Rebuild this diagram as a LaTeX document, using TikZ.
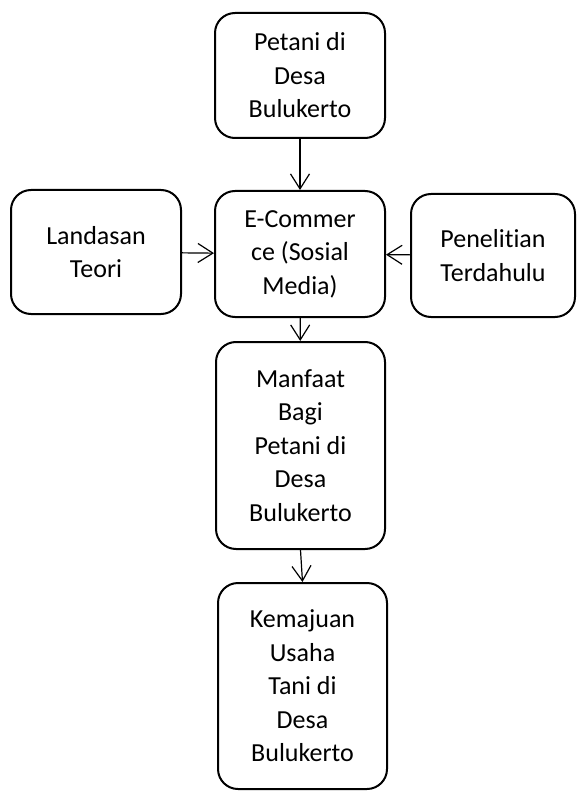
\documentclass[tikz,border=0pt]{standalone}
\usepackage{fontspec}
\setmainfont{Carlito}[Ligatures=NoCommon]
\usetikzlibrary{arrows.meta}
\begin{document}
\begin{tikzpicture}[x=1pt, y=-1pt,
  kotak/.style={draw, line width=2pt, rounded corners=20pt, inner sep=0pt, align=center, font=\fontsize{26}{33.5}\selectfont},
  panah/.style={line width=1.2pt, -{Straight Barb[length=15pt, width=19pt, line width=1.2pt]}}]
\useasboundingbox (0,0) rectangle (576,791);
\node[kotak, minimum width=170pt, minimum height=125pt] (petani) at (300,75.5){Petani di\\Desa\\Bulukerto};
\node[kotak, minimum width=170pt, minimum height=124pt] (landasan) at (96,252){Landasan\\Teori};
\node[kotak, minimum width=170pt, minimum height=126pt] (ecom) at (300,254){E-Commer\\ce (Sosial\\Media)};
\node[kotak, minimum width=164pt, minimum height=123pt] (penelitian) at (493,255.5){Penelitian\\Terdahulu};
\node[kotak, minimum width=169pt, minimum height=207pt] (manfaat) at (300.5,445.5){Manfaat\\Bagi\\Petani di\\Desa\\Bulukerto};
\node[kotak, minimum width=169pt, minimum height=206pt] (kemajuan) at (302.5,686){Kemajuan\\Usaha\\Tani di\\Desa\\Bulukerto};
\draw[panah](petani) -- (ecom);
\draw[panah](landasan) -- (ecom);
\draw[panah](penelitian) -- (ecom);
\draw[panah](ecom) -- (manfaat);
\draw[panah](manfaat.south) -- (kemajuan.north);
\end{tikzpicture}
\end{document}
